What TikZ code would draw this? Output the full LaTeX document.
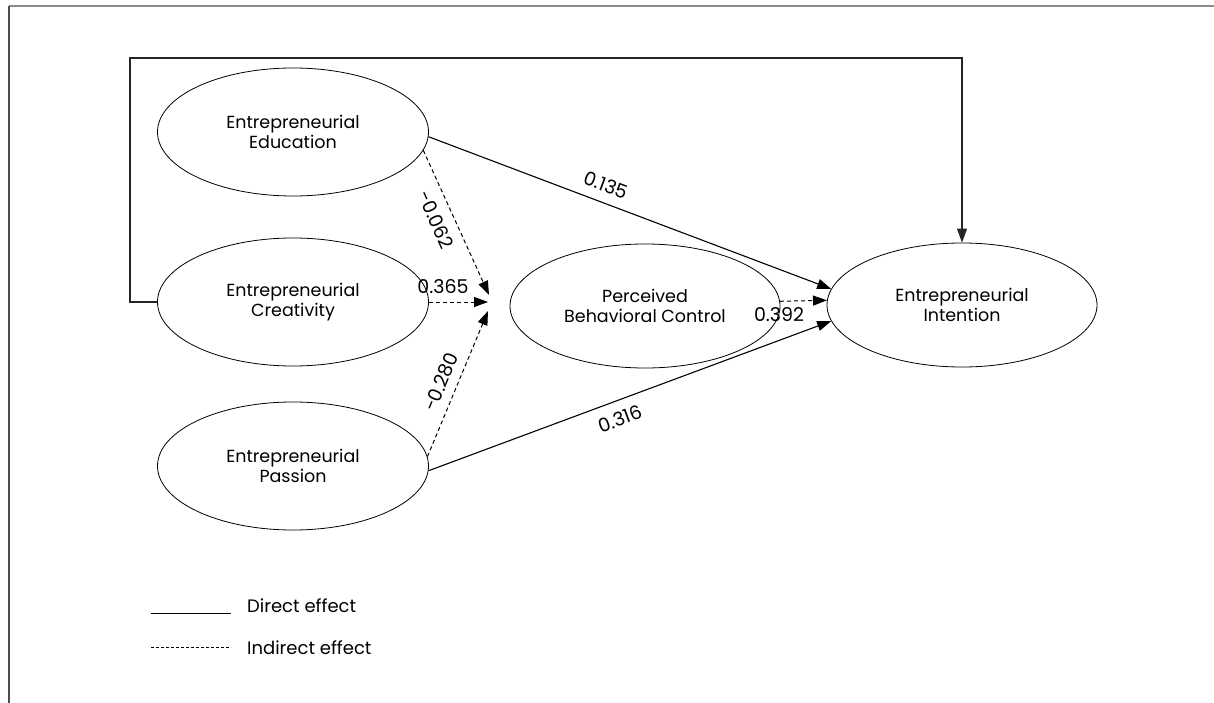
\documentclass[tikz,border=0pt]{standalone}
\usepackage{fontspec}
\setmainfont{Poppins}
\usetikzlibrary{shapes.geometric,arrows.meta}
\begin{document}
\begin{tikzpicture}[x=1pt,y=-1pt,
  lat/.style={ellipse, draw, line width=0.8pt, minimum width=271pt, minimum height=128pt, align=center, inner sep=0pt, font=\fontsize{17.5}{19.5}\selectfont},
  tip/.style={-{Triangle[length=14pt,width=10pt]}},
  direct/.style={line width=1.1pt, tip},
  indirect/.style={line width=1pt, dash pattern=on 4pt off 3pt, tip},
  lbl/.style={font=\fontsize{19}{21}\selectfont, inner sep=0pt},
  legtxt/.style={anchor=west, font=\fontsize{18}{20}\selectfont, inner sep=0pt}]
\useasboundingbox (0,0) rectangle (1214,703);
% frame
\coordinate (fTL) at (9,6);
\coordinate (fTR) at (1214,6);
\coordinate (fBL) at (9,703);
\draw[line width=1.8pt, color=black!45] (fTL) -- (fTR);
\draw[line width=1.6pt, color=black!70] (fBL) -- (fTL);
% latent variables
\node[lat] (edu) at (293,132) {Entrepreneurial\\Education};
\node[lat] (cre) at (293,302) {Entrepreneurial\\Creativity};
\node[lat] (pas) at (293,466) {Entrepreneurial\\Passion};
\node[lat, minimum width=270pt, minimum height=124pt] (pbc) at (645,306) {Perceived\\Behavioral Control};
\node[lat, minimum width=270pt, minimum height=124pt] (int) at (962,305) {Entrepreneurial\\Intention};
% convergence points
\coordinate (m1) at (489,295);
\coordinate (m2) at (488,302);
\coordinate (m3) at (488,311);
\coordinate (fb) at (130,58);
% feedback path
\draw[direct, color=black!85] (cre.west) -| (fb) -| (int.north);
% indirect
\draw[indirect] (edu.-8) -- (m1);
\draw[indirect] (cre.east) -- (m2);
\draw[indirect] (pas.4) -- (m3);
\draw[indirect] (pbc.2) -- (int.178);
% direct
\draw[direct] (edu.-2) -- (int.173);
\draw[direct] (pas.-2) -- (int.187);
% labels
\node[lbl, rotate=-20.6] (l135) at (606,185) {0.135};
\node[lbl, rotate=-66] (l062) at (436,220) {-0.062};
\node[lbl] (l365) at (443,287) {0.365};
\node[lbl, rotate=67] (l280) at (441,382) {-0.280};
\node[lbl, rotate=20.2] (l316) at (620,419) {0.316};
\node[lbl] (l392) at (779,315) {0.392};
% legend
\coordinate (dA) at (151,613);
\coordinate (dB) at (231,613);
\coordinate (iA) at (151,647);
\coordinate (iB) at (231,647);
\draw[line width=1pt] (dA) -- (dB);
\draw[line width=0.8pt, dash pattern=on 3pt off 2pt] (iA) -- (iB);
\node[legtxt] (ld) at (247,606) {Direct effect};
\node[legtxt] (li) at (247,648) {Indirect effect};
\end{tikzpicture}
\end{document}
